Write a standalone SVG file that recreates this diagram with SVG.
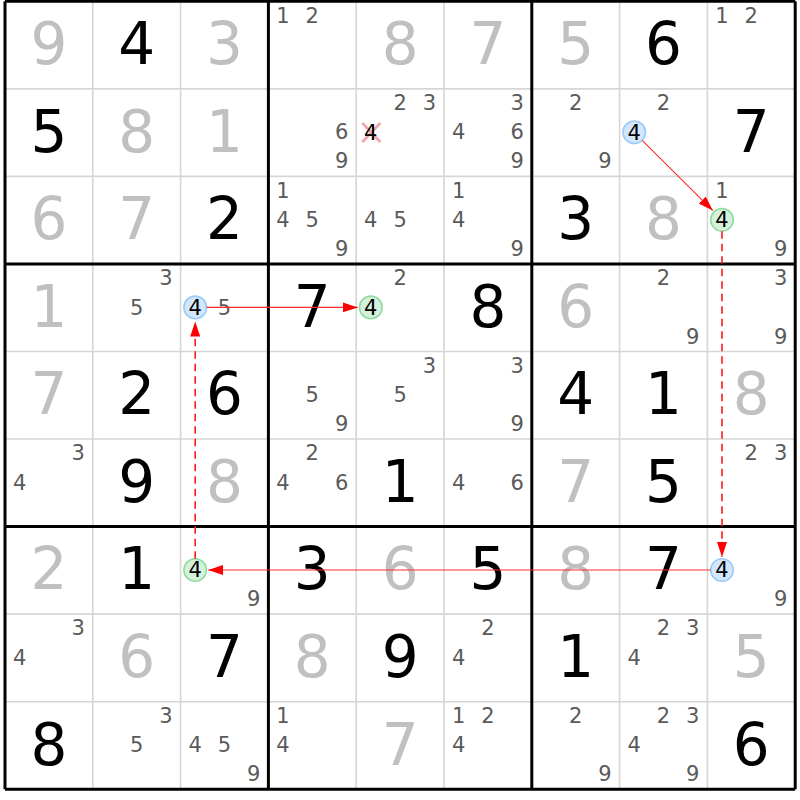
<svg xmlns="http://www.w3.org/2000/svg" width="800" height="800" viewBox="0 0 800 800">
<style>
text{font-family:"DejaVu Sans",Verdana,sans-serif;text-anchor:middle}
.g{font-size:58px;fill:#c0c0c0}
.b{font-size:58px;fill:#000}
.c{font-size:21px;fill:#5a5a5a}
.k{font-size:21px;fill:#000}
.thin{stroke:#d6d6d6;stroke-width:1.6}
.thick{stroke:#000;stroke-width:3}
.blue{fill:#d2e7fc;stroke:#9ccbf6;stroke-width:1.6}
.green{fill:#d5f1da;stroke:#90dba0;stroke-width:1.6}
.solid{stroke:#ff2a2a;stroke-width:1.1;fill:none}
.dash{stroke:#ff1a1a;stroke-width:1.6;stroke-dasharray:7.5 5;fill:none}
.x{stroke:#f6a2aa;stroke-width:2.6}
</style>
<defs>
<marker id="ah" markerUnits="userSpaceOnUse" markerWidth="16" markerHeight="11" refX="15" refY="5" orient="auto">
<path d="M0,0 L15,5 L0,10 z" fill="#ff0000"/>
</marker>
</defs>
<rect width="800" height="800" fill="#fff"/>
<g id="grid">
<path class="thin" d="M92.8,1.3V789.25M180.6,1.3V789.25M356.2,1.3V789.25M444,1.3V789.25M619.6,1.3V789.25M707.4,1.3V789.25M5,88.85H795.2M5,176.4H795.2M5,351.5H795.2M5,439.05H795.2M5,614.15H795.2M5,701.7H795.2"/>
<path class="thick" d="M5,1.3V789.25M268.4,1.3V789.25M531.8,1.3V789.25M795.2,1.3V789.25M5,1.3H795.2M5,263.95H795.2M5,526.6H795.2M5,789.25H795.2"/>
</g>
<g id="r1c1"><text class="g" x="48.9" y="64.1">9</text></g>
<g id="r1c2"><text class="b" x="136.7" y="64.1">4</text></g>
<g id="r1c3"><text class="g" x="224.5" y="64.1">3</text></g>
<g id="r1c4"><text class="c" x="283" y="22.5">1</text><text class="c" x="312.3" y="22.5">2</text></g>
<g id="r1c5"><text class="g" x="400.1" y="64.1">8</text></g>
<g id="r1c6"><text class="g" x="487.9" y="64.1">7</text></g>
<g id="r1c7"><text class="g" x="575.7" y="64.1">5</text></g>
<g id="r1c8"><text class="b" x="663.5" y="64.1">6</text></g>
<g id="r1c9"><text class="c" x="722" y="22.5">1</text><text class="c" x="751.3" y="22.5">2</text></g>

<g id="r2c1"><text class="b" x="48.9" y="151.6">5</text></g>
<g id="r2c2"><text class="g" x="136.7" y="151.6">8</text></g>
<g id="r2c3"><text class="g" x="224.5" y="151.6">1</text></g>
<g id="r2c4"><text class="c" x="341.6" y="139.45">6</text><text class="c" x="341.6" y="168.45">9</text></g>
<g id="r2c5"><text class="c" x="400.1" y="110.05">2</text><text class="c" x="429.4" y="110.05">3</text><path class="x" d="M362.3,123L380.3,142M380.3,123L362.3,142"/><text class="k" x="370.8" y="139.6">4</text></g>
<g id="r2c6"><text class="c" x="517.2" y="110.05">3</text><text class="c" x="458.6" y="139.45">4</text><text class="c" x="517.2" y="139.45">6</text><text class="c" x="517.2" y="168.45">9</text></g>
<g id="r2c7"><text class="c" x="575.7" y="110.05">2</text><text class="c" x="605" y="168.45">9</text></g>
<g id="r2c8"><text class="c" x="663.5" y="110.05">2</text><circle class="blue" cx="634.2" cy="132.3" r="11.3"/><text class="k" x="634.2" y="139.6">4</text></g>
<g id="r2c9"><text class="b" x="751.3" y="151.6">7</text></g>

<g id="r3c1"><text class="g" x="48.9" y="239.2">6</text></g>
<g id="r3c2"><text class="g" x="136.7" y="239.2">7</text></g>
<g id="r3c3"><text class="b" x="224.5" y="239.2">2</text></g>
<g id="r3c4"><text class="c" x="283" y="197.6">1</text><text class="c" x="283" y="227">4</text><text class="c" x="312.3" y="227">5</text><text class="c" x="341.6" y="256">9</text></g>
<g id="r3c5"><text class="c" x="370.8" y="227">4</text><text class="c" x="400.1" y="227">5</text></g>
<g id="r3c6"><text class="c" x="458.6" y="197.6">1</text><text class="c" x="458.6" y="227">4</text><text class="c" x="517.2" y="256">9</text></g>
<g id="r3c7"><text class="b" x="575.7" y="239.2">3</text></g>
<g id="r3c8"><text class="g" x="663.5" y="239.2">8</text></g>
<g id="r3c9"><text class="c" x="722" y="197.6">1</text><circle class="green" cx="722" cy="219.8" r="11.3"/><text class="k" x="722" y="227.1">4</text><text class="c" x="780.6" y="256">9</text></g>

<g id="r4c1"><text class="g" x="48.9" y="326.7">1</text></g>
<g id="r4c2"><text class="c" x="166" y="285.15">3</text><text class="c" x="136.7" y="314.55">5</text></g>
<g id="r4c3"><circle class="blue" cx="195.2" cy="307.4" r="11.3"/><text class="k" x="195.2" y="314.7">4</text><text class="c" x="224.5" y="314.55">5</text></g>
<g id="r4c4"><text class="b" x="312.3" y="326.7">7</text></g>
<g id="r4c5"><text class="c" x="400.1" y="285.15">2</text><circle class="green" cx="370.8" cy="307.4" r="11.3"/><text class="k" x="370.8" y="314.7">4</text></g>
<g id="r4c6"><text class="b" x="487.9" y="326.7">8</text></g>
<g id="r4c7"><text class="g" x="575.7" y="326.7">6</text></g>
<g id="r4c8"><text class="c" x="663.5" y="285.15">2</text><text class="c" x="692.8" y="343.55">9</text></g>
<g id="r4c9"><text class="c" x="780.6" y="285.15">3</text><text class="c" x="780.6" y="343.55">9</text></g>

<g id="r5c1"><text class="g" x="48.9" y="414.3">7</text></g>
<g id="r5c2"><text class="b" x="136.7" y="414.3">2</text></g>
<g id="r5c3"><text class="b" x="224.5" y="414.3">6</text></g>
<g id="r5c4"><text class="c" x="312.3" y="402.1">5</text><text class="c" x="341.6" y="431.1">9</text></g>
<g id="r5c5"><text class="c" x="429.4" y="372.7">3</text><text class="c" x="400.1" y="402.1">5</text></g>
<g id="r5c6"><text class="c" x="517.2" y="372.7">3</text><text class="c" x="517.2" y="431.1">9</text></g>
<g id="r5c7"><text class="b" x="575.7" y="414.3">4</text></g>
<g id="r5c8"><text class="b" x="663.5" y="414.3">1</text></g>
<g id="r5c9"><text class="g" x="751.3" y="414.3">8</text></g>

<g id="r6c1"><text class="c" x="78.2" y="460.25">3</text><text class="c" x="19.6" y="489.65">4</text></g>
<g id="r6c2"><text class="b" x="136.7" y="501.8">9</text></g>
<g id="r6c3"><text class="g" x="224.5" y="501.8">8</text></g>
<g id="r6c4"><text class="c" x="312.3" y="460.25">2</text><text class="c" x="283" y="489.65">4</text><text class="c" x="341.6" y="489.65">6</text></g>
<g id="r6c5"><text class="b" x="400.1" y="501.8">1</text></g>
<g id="r6c6"><text class="c" x="458.6" y="489.65">4</text><text class="c" x="517.2" y="489.65">6</text></g>
<g id="r6c7"><text class="g" x="575.7" y="501.8">7</text></g>
<g id="r6c8"><text class="b" x="663.5" y="501.8">5</text></g>
<g id="r6c9"><text class="c" x="751.3" y="460.25">2</text><text class="c" x="780.6" y="460.25">3</text></g>

<g id="r7c1"><text class="g" x="48.9" y="589.4">2</text></g>
<g id="r7c2"><text class="b" x="136.7" y="589.4">1</text></g>
<g id="r7c3"><circle class="green" cx="195.2" cy="570" r="11.3"/><text class="k" x="195.2" y="577.3">4</text><text class="c" x="253.8" y="606.2">9</text></g>
<g id="r7c4"><text class="b" x="312.3" y="589.4">3</text></g>
<g id="r7c5"><text class="g" x="400.1" y="589.4">6</text></g>
<g id="r7c6"><text class="b" x="487.9" y="589.4">5</text></g>
<g id="r7c7"><text class="g" x="575.7" y="589.4">8</text></g>
<g id="r7c8"><text class="b" x="663.5" y="589.4">7</text></g>
<g id="r7c9"><circle class="blue" cx="722" cy="570" r="11.3"/><text class="k" x="722" y="577.3">4</text><text class="c" x="780.6" y="606.2">9</text></g>

<g id="r8c1"><text class="c" x="78.2" y="635.35">3</text><text class="c" x="19.6" y="664.75">4</text></g>
<g id="r8c2"><text class="g" x="136.7" y="676.9">6</text></g>
<g id="r8c3"><text class="b" x="224.5" y="676.9">7</text></g>
<g id="r8c4"><text class="g" x="312.3" y="676.9">8</text></g>
<g id="r8c5"><text class="b" x="400.1" y="676.9">9</text></g>
<g id="r8c6"><text class="c" x="487.9" y="635.35">2</text><text class="c" x="458.6" y="664.75">4</text></g>
<g id="r8c7"><text class="b" x="575.7" y="676.9">1</text></g>
<g id="r8c8"><text class="c" x="663.5" y="635.35">2</text><text class="c" x="692.8" y="635.35">3</text><text class="c" x="634.2" y="664.75">4</text></g>
<g id="r8c9"><text class="g" x="751.3" y="676.9">5</text></g>

<g id="r9c1"><text class="b" x="48.9" y="764.5">8</text></g>
<g id="r9c2"><text class="c" x="166" y="722.9">3</text><text class="c" x="136.7" y="752.3">5</text></g>
<g id="r9c3"><text class="c" x="195.2" y="752.3">4</text><text class="c" x="224.5" y="752.3">5</text><text class="c" x="253.8" y="781.3">9</text></g>
<g id="r9c4"><text class="c" x="283" y="722.9">1</text><text class="c" x="283" y="752.3">4</text></g>
<g id="r9c5"><text class="g" x="400.1" y="764.5">7</text></g>
<g id="r9c6"><text class="c" x="458.6" y="722.9">1</text><text class="c" x="487.9" y="722.9">2</text><text class="c" x="458.6" y="752.3">4</text></g>
<g id="r9c7"><text class="c" x="575.7" y="722.9">2</text><text class="c" x="605" y="781.3">9</text></g>
<g id="r9c8"><text class="c" x="663.5" y="722.9">2</text><text class="c" x="692.8" y="722.9">3</text><text class="c" x="634.2" y="752.3">4</text><text class="c" x="692.8" y="781.3">9</text></g>
<g id="r9c9"><text class="b" x="751.3" y="764.5">6</text></g>

<g id="connectors">
<line class="solid" x1="642.2" y1="140.3" x2="712.8" y2="210.6" marker-end="url(#ah)"/>
<line class="dash" x1="722" y1="231.3" x2="722" y2="557" marker-end="url(#ah)"/>
<line class="solid" x1="710.7" y1="570" x2="208.2" y2="570" marker-end="url(#ah)"/>
<line class="dash" x1="195.2" y1="558.7" x2="195.2" y2="321.6" marker-end="url(#ah)"/>
<line class="solid" x1="206.5" y1="307.4" x2="357.8" y2="307.4" marker-end="url(#ah)"/>
</g>
</svg>
